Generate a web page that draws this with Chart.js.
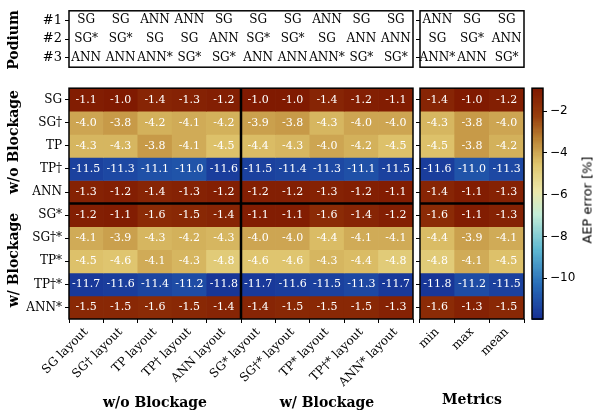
<!DOCTYPE html>
<html><head><meta charset="utf-8">
<script src="https://cdn.jsdelivr.net/npm/chart.js@4"></script>
<style>
body{margin:0;background:#fff;}
#wrap{position:relative;width:600px;height:414px;font-family:"DejaVu Serif",serif;color:#000;}
.box{position:absolute;}
.t{position:absolute;font-weight:bold;font-size:14px;white-space:nowrap;transform:translate(-50%,-50%);}
.r{transform:translate(-50%,-50%) rotate(-90deg);}
</style></head><body>
<div id="wrap">
  <div class="box" style="left:0;top:0;width:415px;height:78px"><canvas id="podL"></canvas></div>
  <div class="box" style="left:413px;top:0;width:115px;height:78px"><canvas id="podR"></canvas></div>
  <div class="box" style="left:0;top:78px;width:415px;height:336px"><canvas id="heatL"></canvas></div>
  <div class="box" style="left:413px;top:78px;width:115px;height:336px"><canvas id="heatR"></canvas></div>
  <div class="box" style="left:528px;top:78px;width:72px;height:336px"><canvas id="cbar"></canvas></div>
  <div class="t r" style="left:13px;top:40px">Podium</div>
  <div class="t r" style="left:13px;top:142px">w/o Blockage</div>
  <div class="t r" style="left:13px;top:260px">w/ Blockage</div>
  <div class="t" style="left:155px;top:402px">w/o Blockage</div>
  <div class="t" style="left:327px;top:402px">w/ Blockage</div>
  <div class="t" style="left:472px;top:399px">Metrics</div>
  <div class="t r" style="left:587px;top:200px;font-weight:normal;font-family:'DejaVu Sans';font-size:13px;color:#000">AEP error [%]</div>
</div>
<script>
// categories
const layoutCols = ["SG layout","SG\u2020 layout","TP layout","TP\u2020 layout","ANN layout",
  "SG* layout","SG\u2020* layout","TP* layout","TP\u2020* layout","ANN* layout"];
const metricCols = ["min","max","mean"];
const rowLabels = ["SG","SG\u2020","TP","TP\u2020","ANN","SG*","SG\u2020*","TP*","TP\u2020*","ANN*"];
const podiumRows = ["#1","#2","#3"];

// podium rankings
const podium1 = ["SG","SG","ANN","ANN","SG","SG","SG","ANN","SG","SG"];
const podium2 = ["SG*","SG*","SG","SG","ANN","SG*","SG*","SG","ANN","ANN"];
const podium3 = ["ANN","ANN","ANN*","SG*","SG*","ANN","ANN","ANN*","SG*","SG*"];
const podiumM1 = ["ANN","SG","SG"];
const podiumM2 = ["SG","SG*","ANN"];
const podiumM3 = ["ANN*","ANN","SG*"];

// AEP error [%], one array per row (10 layouts + min/max/mean)
const rowSG     = [-1.1,-1.0,-1.4,-1.3,-1.2, -1.0,-1.0,-1.4,-1.2,-1.1, -1.4,-1.0,-1.2];
const rowSGd    = [-4.0,-3.8,-4.2,-4.1,-4.2, -3.9,-3.8,-4.3,-4.0,-4.0, -4.3,-3.8,-4.0];
const rowTP     = [-4.3,-4.3,-3.8,-4.1,-4.5, -4.4,-4.3,-4.0,-4.2,-4.5, -4.5,-3.8,-4.2];
const rowTPd    = [-11.5,-11.3,-11.1,-11.0,-11.6, -11.5,-11.4,-11.3,-11.1,-11.5, -11.6,-11.0,-11.3];
const rowANN    = [-1.3,-1.2,-1.4,-1.3,-1.2, -1.2,-1.2,-1.3,-1.2,-1.1, -1.4,-1.1,-1.3];
const rowSGs    = [-1.2,-1.1,-1.6,-1.5,-1.4, -1.1,-1.1,-1.6,-1.4,-1.2, -1.6,-1.1,-1.3];
const rowSGds   = [-4.1,-3.9,-4.3,-4.2,-4.3, -4.0,-4.0,-4.4,-4.1,-4.1, -4.4,-3.9,-4.1];
const rowTPs    = [-4.5,-4.6,-4.1,-4.3,-4.8, -4.6,-4.6,-4.3,-4.4,-4.8, -4.8,-4.1,-4.5];
const rowTPds   = [-11.7,-11.6,-11.4,-11.2,-11.8, -11.7,-11.6,-11.5,-11.3,-11.7, -11.8,-11.2,-11.5];
const rowANNs   = [-1.5,-1.5,-1.6,-1.5,-1.4, -1.4,-1.5,-1.5,-1.5,-1.3, -1.6,-1.3,-1.5];
const rows = [rowSG,rowSGd,rowTP,rowTPd,rowANN,rowSGs,rowSGds,rowTPs,rowTPds,rowANNs];

const cbTicks = [-2,-4,-6,-8,-10];
const vMin = -11.95, vMax = -0.9;

//colormap similar to "roma": brown -> tan -> cream -> teal -> blue
const stops = [[0,[126,23,0]],[0.12,[150,60,12]],[0.22,[185,128,50]],[0.33,[222,196,108]],
  [0.45,[236,232,170]],[0.55,[195,236,215]],[0.7,[95,185,210]],[0.85,[40,110,185]],[1,[22,48,148]]];
function cmap(v){
  let t = Math.min(1, Math.max(0, (v - vMax) / (vMin - vMax)));
  for (let i = 1; i < stops.length; i++) {
    if (t <= stops[i][0]) {
      const [t0,c0] = stops[i-1], [t1,c1] = stops[i];
      const f = (t - t0) / (t1 - t0);
      return 'rgb(' + c0.map((c,k) => Math.round(c + (c1[k]-c)*f)).join(',') + ')';
    }
  }
  return 'rgb(22,48,148)';
}

Chart.defaults.font.family = "'DejaVu Serif', serif";
Chart.defaults.font.size = 12;
Chart.defaults.color = '#000';
Chart.defaults.animation = false;

const tickGrid = {drawOnChartArea:false, drawTicks:true, tickLength:4, color:'#000'};

//draws a frame and optional thick separator lines
function framePlugin(splitCol, splitRow){
  return {id:'frame', afterDraw(chart){
    const {ctx, chartArea:a, scales} = chart;
    ctx.save();
    ctx.strokeStyle = '#000';
    if (splitCol != null) {
      const x = (scales.x.getPixelForValue(splitCol-1) + scales.x.getPixelForValue(splitCol)) / 2;
      ctx.lineWidth = 2.5;
      ctx.beginPath(); ctx.moveTo(x, a.top); ctx.lineTo(x, a.bottom); ctx.stroke();
    }
    if (splitRow != null) {
      const y = scales.y.getPixelForValue(splitRow - 0.5);
      ctx.lineWidth = 2.5;
      ctx.beginPath(); ctx.moveTo(a.left, y); ctx.lineTo(a.right, y); ctx.stroke();
    }
    ctx.lineWidth = 1.5;
    ctx.strokeRect(a.left, a.top, a.right - a.left, a.bottom - a.top);
    ctx.restore();
  }};
}

//writes the value in each heatmap cell
const cellText = {id:'cellText', afterDatasetsDraw(chart){
  const ctx = chart.ctx;
  ctx.save();
  ctx.fillStyle = '#fff';
  ctx.font = "11px 'DejaVu Serif'";
  ctx.textAlign = 'center'; ctx.textBaseline = 'middle';
  chart.data.datasets.forEach((ds, di) => {
    chart.getDatasetMeta(di).data.forEach((el, i) => {
      ctx.fillText(ds.vals[i].toFixed(1), el.x, (el.y + el.base) / 2);
    });
  });
  ctx.restore();
}};

function heatChart(id, cols, offset, yWidth, showY, splitCol, padRight){
  const datasets = rows.map((r, ri) => {
    const vals = r.slice(offset, offset + cols.length);
    return {
      data: cols.map((c) => ({x:c, y:[ri-0.5, ri+0.5]})),
      vals: vals,
      backgroundColor: vals.map(cmap),
      borderWidth: 0, grouped: false, barPercentage: 1.0, categoryPercentage: 1.0
    };
  });
  return new Chart(document.getElementById(id), {
    type:'bar',
    data:{labels:cols, datasets:datasets},
    options:{
      responsive:true, maintainAspectRatio:false,
      layout:{padding:{top:5, right:padRight, left:0, bottom:0}},
      plugins:{legend:{display:false}, tooltip:{enabled:false}},
      scales:{
        x:{grid:tickGrid, border:{display:false},
           ticks:{maxRotation:45, minRotation:45, autoSkip:false, padding:2},
           afterFit(s){ s.height = 95; }},
        y:{type:'linear', reverse:true, min:-0.5, max:9.5, grid:tickGrid, border:{display:false},
           afterBuildTicks(s){ s.ticks = rowLabels.map((_, i) => ({value:i})); },
           ticks:{autoSkip:false, padding:3, callback:(v) => showY ? rowLabels[v] : ''},
           afterFit(s){ s.width = yWidth; }}
      }
    },
    plugins:[cellText, framePlugin(splitCol, 5)]
  });
}

function podiumChart(id, cols, ranks, yWidth, showY, padRight){
  const textPlugin = {id:'podText', afterDraw(chart){
    const {ctx, scales} = chart;
    ctx.save();
    ctx.font = "12px 'DejaVu Serif'";
    ctx.fillStyle = '#000'; ctx.textAlign = 'center'; ctx.textBaseline = 'middle';
    ranks.forEach((r, ri) => r.forEach((txt, ci) => {
      ctx.fillText(txt, scales.x.getPixelForValue(ci), scales.y.getPixelForValue(ri));
    }));
    ctx.restore();
  }};
  return new Chart(document.getElementById(id), {
    type:'scatter',
    data:{labels:cols, datasets:[{data:[], pointRadius:0}]},
    options:{
      responsive:true, maintainAspectRatio:false,
      layout:{padding:{top:5, right:padRight, left:0, bottom:2}},
      plugins:{legend:{display:false}, tooltip:{enabled:false}},
      scales:{
        x:{type:'category', labels:cols, offset:true, display:false},
        y:{type:'linear', reverse:true, min:-0.5, max:2.5, grid:tickGrid, border:{display:false},
           afterBuildTicks(s){ s.ticks = podiumRows.map((_, i) => ({value:i})); },
           ticks:{padding:3, font:{size:13}, callback:(v) => showY ? podiumRows[v] : ''},
           afterFit(s){ s.width = yWidth; }}
      }
    },
    plugins:[textPlugin, framePlugin(null, null)]
  });
}

podiumChart('podL', layoutCols, [podium1, podium2, podium3], 69, true, 2);
podiumChart('podR', metricCols, [podiumM1, podiumM2, podiumM3], 7, false, 4);
heatChart('heatL', layoutCols, 0, 69, true, 5, 2);
heatChart('heatR', metricCols, 10, 7, false, null, 4);

//colour bar, filled along the y scale
const cbarFill = {id:'cbarFill', beforeDatasetsDraw(chart){
  const {ctx, chartArea:a, scales} = chart;
  const n = 200;
  for (let i = 0; i < n; i++) {
    const v0 = vMax + (vMin - vMax) * i / n, v1 = vMax + (vMin - vMax) * (i + 1) / n;
    const y0 = scales.y.getPixelForValue(v0), y1 = scales.y.getPixelForValue(v1);
    ctx.fillStyle = cmap((v0 + v1) / 2);
    ctx.fillRect(a.left, Math.floor(y0), a.right - a.left, Math.ceil(y1 - y0) + 1);
  }
}};
new Chart(document.getElementById('cbar'), {
  type:'scatter',
  data:{datasets:[{data:[], pointRadius:0}]},
  options:{
    responsive:true, maintainAspectRatio:false,
    layout:{padding:{top:5, left:4, right:0, bottom:95}},
    plugins:{legend:{display:false}, tooltip:{enabled:false}},
    scales:{
      x:{display:false, min:0, max:1},
      y:{position:'right', min:vMin, max:vMax, grid:tickGrid, border:{display:false},
         afterBuildTicks(s){ s.ticks = cbTicks.map((v) => ({value:v})); },
         ticks:{font:{family:"'DejaVu Sans'", size:12}, padding:3, callback:(v) => '\u2212' + Math.abs(v)},
         afterFit(s){ s.width = 57; }}
    }
  },
  plugins:[cbarFill, framePlugin(null, null)]
});
</script>
</body></html>
